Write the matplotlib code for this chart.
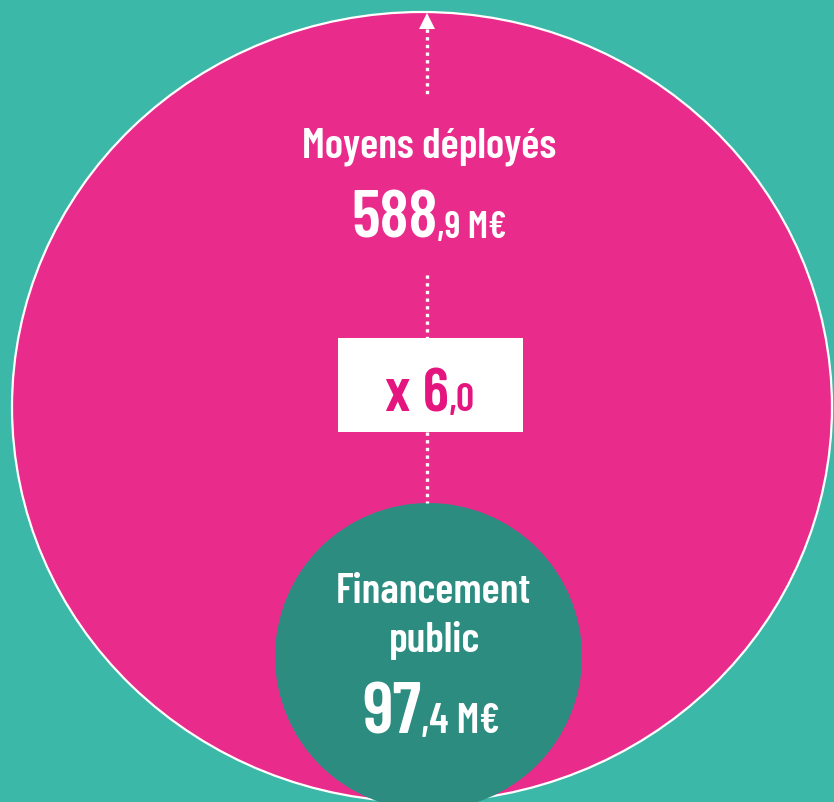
import matplotlib.pyplot as plt
from matplotlib.patches import Ellipse, Circle, Rectangle, Polygon

# data
labels = ["Moyens déployés", "Financement\npublic"]
totals = [588.9, 97.4]          # M€
unit = "M€"
ratio = totals[0] / totals[1]

teal_bg = '#3cb8a8'
pink = '#e92c8c'
teal_dk = '#2c8c80'
pink_txt = '#e4157f'
fnt = ['Barlow Condensed', 'Roboto Condensed', 'DejaVu Sans']
wt = 600


def split_num(v):
    s = f"{v:.1f}".replace('.', ',')
    a, b = s.split(',')
    return a, ',' + b


def two_part(ax, x, y, big, small, s_big, s_small, color):
    # draws "big" + "small" sharing a baseline, group centered on x
    t1 = ax.text(x, y, big, fontsize=s_big, fontweight=wt, family=fnt,
                 color=color, ha='right', va='baseline')
    t2 = ax.text(x, y, small, fontsize=s_small, fontweight=wt, family=fnt,
                 color=color, ha='left', va='baseline')
    r = ax.figure.canvas.get_renderer()
    inv = ax.transData.inverted()
    w1 = inv.transform(t1.get_window_extent(r))[:, 0]
    w2 = inv.transform(t2.get_window_extent(r))[:, 0]
    tot = (w1[1] - w1[0]) + (w2[1] - w2[0])
    xs = x - tot / 2 + (w1[1] - w1[0])
    t1.set_x(xs)
    t2.set_x(xs)


fig = plt.figure(figsize=(8.34, 8.02), dpi=100)
fig.patch.set_facecolor(teal_bg)
ax = fig.add_axes([0, 0, 1, 1])
ax.set_xlim(0, 834)
ax.set_ylim(802, 0)
ax.axis('off')

ax.add_patch(Ellipse((422, 407), 820, 790, facecolor=pink, edgecolor='white', lw=1.6))
ax.add_patch(Circle((428.5, 656.5), 153.5, facecolor=teal_dk, edgecolor='none'))

# dotted connectors
for y0, y1 in [(29, 95), (275, 338), (432, 503)]:
    ax.plot([427.5, 427.5], [y0, y1], color='white', lw=2.4,
            linestyle=(0, (1.0, 1.3)), solid_capstyle='butt', dash_capstyle='butt')
ax.add_patch(Polygon([[419, 29], [435, 29], [427, 13]], closed=True, facecolor='white', edgecolor='none'))

# ratio box
ax.add_patch(Rectangle((338, 338), 185, 94, facecolor='white', edgecolor='none'))

# texts
ax.text(429, 158, labels[0], fontsize=30.5, fontweight=wt, family=fnt,
        color='white', ha='center', va='baseline')
a, b = split_num(totals[0])
two_part(ax, 429, 238, a, b + ' ' + unit, 48, 27, 'white')

top, bottom = labels[1].split('\n')
ax.text(433, 603, top, fontsize=30.5, fontweight=wt, family=fnt,
        color='white', ha='center', va='baseline')
ax.text(435, 652, bottom, fontsize=30.5, fontweight=wt, family=fnt,
        color='white', ha='center', va='baseline')
a, b = split_num(totals[1])
two_part(ax, 431, 733, a, b + ' ' + unit, 52, 30, 'white')

a, b = split_num(ratio)
two_part(ax, 430, 411, 'x ' + a, b, 44, 29, pink_txt)

fig.savefig('out.png', dpi=100, facecolor=teal_bg)
